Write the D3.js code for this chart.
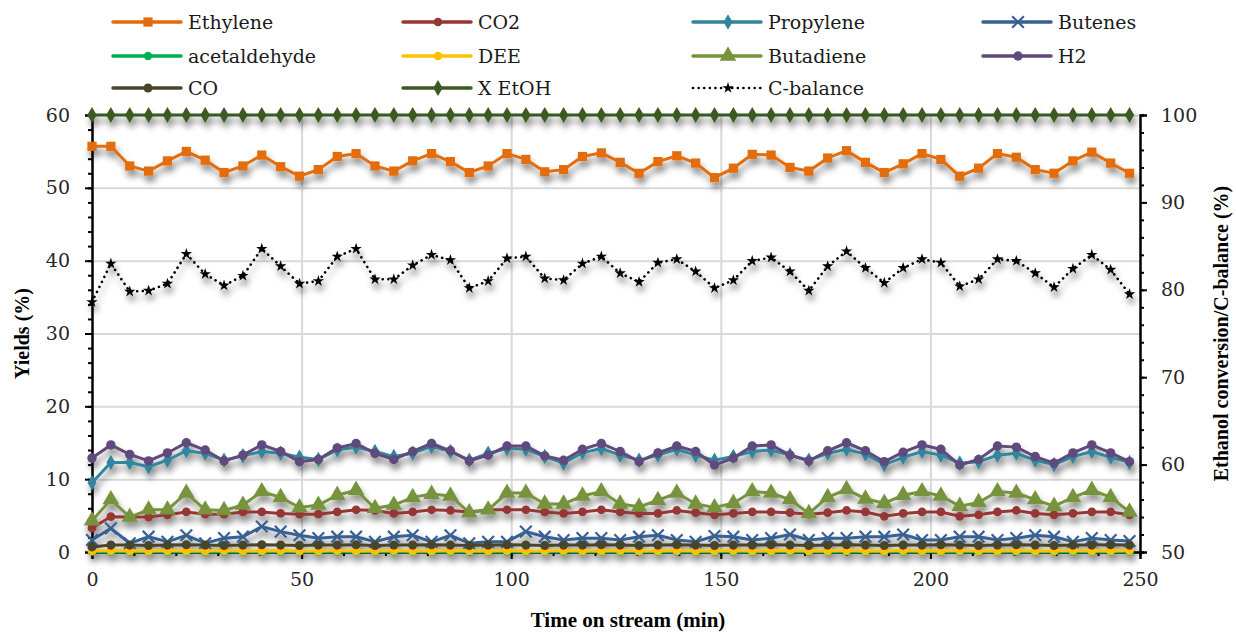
<!DOCTYPE html>
<html>
<head>
<meta charset="utf-8">
<script src="https://cdn.jsdelivr.net/npm/d3@7"></script>
<style>
  body { margin: 0; background: #fff; }
</style>
</head>
<body>
<div id="chart"></div>
<script>
// time on stream (min)
const timeMin = [0, 4.5, 9, 13.5, 18, 22.5, 27, 31.5, 36, 40.5, 45, 49.5, 54, 58.5, 63, 67.5, 72, 76.5, 81, 85.5,
  90, 94.5, 99, 103.5, 108, 112.5, 117, 121.5, 126, 130.5, 135, 139.5, 144, 148.5, 153, 157.5, 162, 166.5, 171, 175.5,
  180, 184.5, 189, 193.5, 198, 202.5, 207, 211.5, 216, 220.5, 225, 229.5, 234, 238.5, 243, 247.5];

// yields (%) - left axis
const ethylene = [55.7, 55.7, 53.0, 52.3, 53.7, 55.0, 53.8, 52.1, 53.0, 54.5, 52.9, 51.6, 52.5, 54.3, 54.7, 53.0, 52.3, 53.7, 54.7, 53.6,
  52.1, 53.0, 54.7, 53.9, 52.2, 52.5, 54.3, 54.8, 53.5, 52.0, 53.6, 54.4, 53.4, 51.4, 52.7, 54.6, 54.5, 52.8, 52.3, 54.1,
  55.1, 53.5, 52.1, 53.3, 54.7, 53.9, 51.6, 52.7, 54.7, 54.2, 52.5, 52.0, 53.7, 54.9, 53.4, 52.0];
const co2 = [3.3, 4.85, 4.8, 4.8, 5.1, 5.5, 5.2, 5.2, 5.5, 5.5, 5.3, 5.2, 5.2, 5.5, 5.8, 5.7, 5.3, 5.5, 5.8, 5.7,
  5.5, 5.8, 5.8, 5.8, 5.5, 5.3, 5.5, 5.8, 5.5, 5.3, 5.3, 5.7, 5.4, 5.1, 5.3, 5.5, 5.5, 5.4, 5.2, 5.4,
  5.7, 5.5, 4.9, 5.3, 5.5, 5.5, 4.9, 5.1, 5.5, 5.7, 5.3, 5.1, 5.3, 5.5, 5.5, 5.1];
const propylene = [9.5, 12.3, 12.3, 11.7, 12.6, 13.9, 13.55, 12.6, 13.2, 13.8, 13.55, 13.0, 12.7, 14.0, 14.4, 13.8, 13.1, 13.55, 14.5, 13.8,
  12.6, 13.55, 14.2, 14.1, 13.1, 12.2, 13.65, 14.2, 13.3, 12.6, 13.3, 14.1, 13.3, 12.6, 13.1, 13.8, 14.0, 13.3, 12.6, 13.55,
  14.1, 13.45, 12.0, 13.0, 13.8, 13.3, 12.2, 12.4, 13.3, 13.55, 12.6, 12.0, 13.1, 13.8, 13.0, 12.3];
const butenes = [1.65, 3.25, 1.2, 2.1, 1.4, 2.3, 1.2, 1.9, 2.1, 3.5, 2.8, 2.3, 1.9, 2.1, 2.1, 1.4, 2.1, 2.3, 1.4, 2.3,
  1.2, 1.4, 1.4, 2.8, 2.1, 1.65, 1.9, 1.9, 1.65, 2.1, 2.3, 1.65, 1.4, 2.2, 2.1, 1.65, 1.9, 2.4, 1.65, 1.9,
  1.9, 2.1, 2.1, 2.4, 1.65, 1.65, 2.1, 2.1, 1.65, 1.9, 2.3, 2.1, 1.4, 1.9, 1.65, 1.5];
const acetaldehyde = [0.05, 0.05, 0.05, 0.05, 0.05, 0.05, 0.05, 0.05, 0.05, 0.05, 0.05, 0.05, 0.05, 0.05, 0.05, 0.05, 0.05, 0.05, 0.05, 0.05,
  0.05, 0.05, 0.05, 0.05, 0.05, 0.05, 0.05, 0.05, 0.05, 0.05, 0.05, 0.05, 0.05, 0.05, 0.05, 0.05, 0.05, 0.05, 0.05, 0.05,
  0.05, 0.05, 0.05, 0.05, 0.05, 0.05, 0.05, 0.05, 0.05, 0.05, 0.05, 0.05, 0.05, 0.05, 0.05, 0.05];
const dee = [0.15, 0.2, 0.15, 0.15, 0.2, 0.15, 0.15, 0.2, 0.15, 0.15, 0.2, 0.15, 0.15, 0.2, 0.15, 0.15, 0.2, 0.15, 0.15, 0.2,
  0.15, 0.15, 0.2, 0.15, 0.15, 0.2, 0.15, 0.15, 0.2, 0.15, 0.15, 0.2, 0.15, 0.15, 0.2, 0.15, 0.15, 0.2, 0.15, 0.15,
  0.2, 0.15, 0.15, 0.2, 0.15, 0.15, 0.2, 0.15, 0.15, 0.2, 0.15, 0.15, 0.2, 0.15, 0.15, 0.2];
const butadiene = [4.3, 7.2, 4.8, 5.8, 5.8, 8.1, 5.8, 5.7, 6.45, 8.3, 7.5, 6.1, 6.45, 7.8, 8.5, 6.0, 6.45, 7.5, 7.95, 7.7,
  5.4, 5.8, 8.1, 8.1, 6.6, 6.6, 7.7, 8.3, 6.6, 6.2, 7.1, 8.1, 6.6, 6.1, 6.7, 8.3, 8.1, 7.2, 5.3, 7.5,
  8.6, 7.3, 6.7, 7.8, 8.3, 7.7, 6.3, 6.8, 8.3, 8.1, 7.2, 6.3, 7.5, 8.5, 7.5, 5.5];
const h2 = [12.9, 14.7, 13.4, 12.5, 13.6, 15.0, 14.0, 12.5, 13.3, 14.7, 13.8, 12.4, 12.7, 14.3, 14.9, 13.55, 12.7, 13.8, 14.9, 13.9,
  12.5, 13.3, 14.55, 14.55, 13.2, 12.6, 14.1, 14.9, 13.8, 12.4, 13.6, 14.55, 13.8, 11.95, 12.9, 14.55, 14.7, 13.3, 12.5, 13.9,
  15.0, 13.9, 12.4, 13.7, 14.7, 14.1, 11.95, 12.7, 14.55, 14.4, 13.1, 12.2, 13.6, 14.7, 13.6, 12.4];
const co = [0.7, 0.95, 0.95, 0.9, 0.95, 1.0, 0.95, 0.9, 0.95, 1.0, 0.95, 0.9, 0.95, 0.95, 1.0, 0.9, 0.95, 0.95, 1.0, 0.95,
  0.9, 0.95, 1.0, 0.95, 0.9, 0.95, 0.95, 1.0, 0.95, 0.9, 0.95, 1.0, 0.95, 0.9, 0.95, 0.95, 1.0, 0.95, 0.9, 0.95,
  1.0, 0.95, 0.9, 0.95, 0.95, 1.0, 0.95, 0.9, 0.95, 1.0, 0.95, 0.9, 0.95, 0.95, 1.0, 0.95];

// ethanol conversion / C-balance (%) - right axis
const xEtOH = [100, 100, 100, 100, 100, 100, 100, 100, 100, 100, 100, 100, 100, 100, 100, 100, 100, 100, 100, 100,
  100, 100, 100, 100, 100, 100, 100, 100, 100, 100, 100, 100, 100, 100, 100, 100, 100, 100, 100, 100,
  100, 100, 100, 100, 100, 100, 100, 100, 100, 100, 100, 100, 100, 100, 100, 100];
const cBalance = [78.6, 83.0, 79.8, 79.9, 80.7, 84.1, 81.8, 80.5, 81.6, 84.7, 82.7, 80.7, 81.0, 83.8, 84.7, 81.2, 81.2, 82.8, 84.0, 83.4,
  80.2, 81.0, 83.6, 83.8, 81.3, 81.1, 83.0, 83.8, 81.9, 80.9, 83.1, 83.5, 82.1, 80.2, 81.1, 83.3, 83.7, 82.1, 79.9, 82.7,
  84.4, 82.5, 80.8, 82.5, 83.5, 83.1, 80.4, 81.2, 83.5, 83.3, 81.9, 80.3, 82.4, 84.0, 82.3, 79.5];

// tick labels
const xTicks = [0, 50, 100, 150, 200, 250];
const yLeftTicks = [0, 10, 20, 30, 40, 50, 60];
const yRightTicks = [50, 60, 70, 80, 90, 100];

const series = [
  {name: "Ethylene", values: ethylene, color: "#e36c0a", symbol: d3.symbolSquare, size: 85, axis: "left"},
  {name: "CO2", values: co2, color: "#953735", symbol: d3.symbolCircle, size: 60, axis: "left"},
  {name: "Propylene", values: propylene, color: "#31859c", symbol: d3.symbolDiamond, size: 70, axis: "left"},
  {name: "Butenes", values: butenes, color: "#376092", symbol: d3.symbolX, size: 90, axis: "left", stroked: true},
  {name: "acetaldehyde", values: acetaldehyde, color: "#00b050", symbol: d3.symbolCircle, size: 55, axis: "left"},
  {name: "DEE", values: dee, color: "#ffc000", symbol: d3.symbolCircle, size: 60, axis: "left"},
  {name: "Butadiene", values: butadiene, color: "#77933c", symbol: d3.symbolTriangle, size: 120, axis: "left"},
  {name: "H2", values: h2, color: "#604a7b", symbol: d3.symbolCircle, size: 70, axis: "left"},
  {name: "CO", values: co, color: "#4a452a", symbol: d3.symbolCircle, size: 65, axis: "left"},
  {name: "X EtOH", values: xEtOH, color: "#3b5a22", symbol: d3.symbolDiamond, size: 75, axis: "right"},
  {name: "C-balance", values: cBalance, color: "#000000", symbol: d3.symbolStar, size: 40, axis: "right", dotted: true}
];

const W = 1236, H = 633;
const plot = {left: 92, right: 1140, top: 115, bottom: 552};
const serif = "DejaVu Serif";
const boldSerif = "Liberation Serif";

const svg = d3.select("#chart").append("svg")
  .attr("width", W)
  .attr("height", H);

//drop shadow under the series
svg.append("defs").append("filter")
  .attr("id", "shadow")
  .attr("x", "-5%").attr("y", "-30%")
  .attr("width", "115%").attr("height", "180%")
  .append("feDropShadow")
  .attr("dx", 2)
  .attr("dy", 6)
  .attr("stdDeviation", 3)
  .attr("flood-color", "#000")
  .attr("flood-opacity", 0.45);

const x = d3.scaleLinear().domain([0, 250]).range([plot.left, plot.right]);
const yLeft = d3.scaleLinear().domain([0, 60]).range([plot.bottom, plot.top]);
const yRight = d3.scaleLinear().domain([50, 100]).range([plot.bottom, plot.top]);

//gridlines
svg.append("g")
  .attr("transform", `translate(${plot.left},0)`)
  .call(d3.axisLeft(yLeft).tickValues(yLeftTicks).tickSize(-(plot.right - plot.left)).tickFormat(""))
  .call(g => g.select(".domain").remove())
  .call(g => g.selectAll("line").attr("stroke", "#d9d9d9").attr("stroke-width", 2));

svg.append("g")
  .attr("transform", `translate(0,${plot.bottom})`)
  .call(d3.axisBottom(x).tickValues(xTicks.slice(1, -1)).tickSize(-(plot.bottom - plot.top)).tickFormat(""))
  .call(g => g.select(".domain").remove())
  .call(g => g.selectAll("line").attr("stroke", "#d9d9d9").attr("stroke-width", 2));

//axes
function styleAxis(g) {
  g.attr("font-family", serif);
  g.select(".domain").attr("stroke", "#000").attr("stroke-width", 2);
  g.selectAll(".tick line").attr("stroke", "#000").attr("stroke-width", 2);
  g.selectAll(".tick text")
    .attr("font-size", "19px")
    .attr("fill", "#262626");
}

// minor ticks first
svg.append("g")
  .attr("transform", `translate(${plot.left},0)`)
  .call(d3.axisLeft(yLeft).tickValues(d3.range(0, 61, 2)).tickSize(4).tickFormat(""))
  .call(styleAxis);
svg.append("g")
  .attr("transform", `translate(${plot.right},0)`)
  .call(d3.axisRight(yRight).tickValues(d3.range(50, 101, 2)).tickSize(4).tickFormat(""))
  .call(styleAxis);
svg.append("g")
  .attr("transform", `translate(0,${plot.bottom})`)
  .call(d3.axisBottom(x).tickValues(d3.range(0, 251, 10)).tickSize(4).tickFormat(""))
  .call(styleAxis);

svg.append("g")
  .attr("transform", `translate(${plot.left},0)`)
  .call(d3.axisLeft(yLeft).tickValues(yLeftTicks).tickSize(7).tickPadding(15))
  .call(styleAxis);
svg.append("g")
  .attr("transform", `translate(${plot.right},0)`)
  .call(d3.axisRight(yRight).tickValues(yRightTicks).tickSize(7).tickPadding(14))
  .call(styleAxis);
svg.append("g")
  .attr("transform", `translate(0,${plot.bottom})`)
  .call(d3.axisBottom(x).tickValues(xTicks).tickSize(7).tickPadding(14))
  .call(styleAxis);

//axis titles
svg.append("text")
  .attr("transform", `translate(628,620)`)
  .attr("text-anchor", "middle")
  .attr("dominant-baseline", "central")
  .attr("font-family", boldSerif)
  .attr("font-size", "21px")
  .attr("font-weight", "bold")
  .attr("fill", "#000")
  .text("Time on stream (min)");

svg.append("text")
  .attr("transform", `translate(22,${(plot.top + plot.bottom) / 2}) rotate(-90)`)
  .attr("text-anchor", "middle")
  .attr("dominant-baseline", "central")
  .attr("font-family", boldSerif)
  .attr("font-size", "20px")
  .attr("font-weight", "bold")
  .attr("fill", "#000")
  .text("Yields (%)");

svg.append("text")
  .attr("transform", `translate(1221,${(plot.top + plot.bottom) / 2}) rotate(-90)`)
  .attr("text-anchor", "middle")
  .attr("dominant-baseline", "central")
  .attr("font-family", boldSerif)
  .attr("font-size", "20px")
  .attr("font-weight", "bold")
  .attr("fill", "#000")
  .text("Ethanol conversion/C-balance (%)");

//series
const seriesLayer = svg.append("g").attr("filter", "url(#shadow)");

function drawMarker(sel, s) {
  sel.attr("d", d3.symbol().type(s.symbol).size(s.size)())
    .attr("fill", s.stroked ? "none" : s.color)
    .attr("stroke", s.stroked ? s.color : "none")
    .attr("stroke-width", s.stroked ? 2.2 : 0);
}

series.forEach(s => {
  const yScale = s.axis === "left" ? yLeft : yRight;
  const line = d3.line()
    .x((d, i) => x(timeMin[i]))
    .y(d => yScale(d));
  const g = seriesLayer.append("g");

  g.append("path")
    .datum(s.values)
    .attr("d", line)
    .attr("fill", "none")
    .attr("stroke", s.color)
    .attr("stroke-width", s.dotted ? 2.6 : 3)
    .attr("stroke-linecap", "round")
    .attr("stroke-dasharray", s.dotted ? "0.1,5.5" : null);

  g.selectAll("path.marker")
    .data(s.values)
    .join("path")
    .attr("class", "marker")
    .attr("transform", (d, i) => `translate(${x(timeMin[i])},${yScale(d)})`)
    .call(sel => drawMarker(sel, s));
});

//legend
const legendCols = [113, 403, 693, 983];
const legendRows = [22, 56, 88];
const legend = svg.append("g");

series.forEach((s, i) => {
  const lx = legendCols[i % 4];
  const ly = legendRows[Math.floor(i / 4)];
  const item = legend.append("g").attr("transform", `translate(${lx},${ly})`);

  item.append("line")
    .attr("x1", 0).attr("x2", 68)
    .attr("y1", 0).attr("y2", 0)
    .attr("stroke", s.color)
    .attr("stroke-width", s.dotted ? 2.6 : 3.5)
    .attr("stroke-linecap", "round")
    .attr("stroke-dasharray", s.dotted ? "0.1,5.5" : null);

  item.append("path")
    .attr("transform", "translate(35,0)")
    .call(sel => drawMarker(sel, s));

  item.append("text")
    .attr("x", 75)
    .attr("dominant-baseline", "central")
    .attr("font-family", serif)
    .attr("font-size", "19px")
    .attr("fill", "#1a1a1a")
    .text(s.name);
});
</script>
</body>
</html>
